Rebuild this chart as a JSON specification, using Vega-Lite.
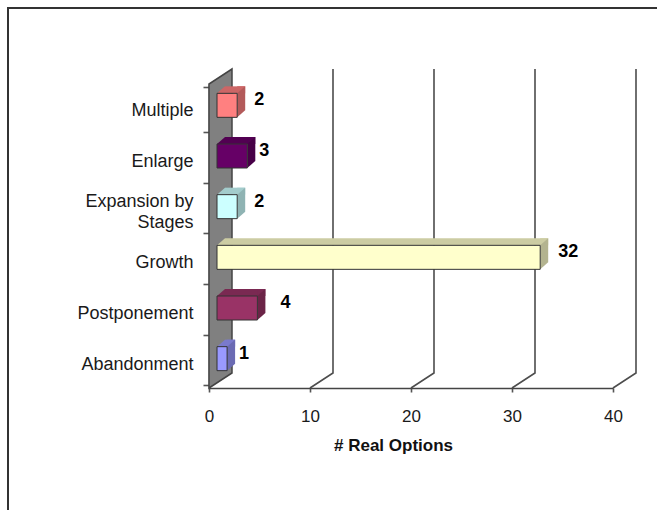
{
"$schema":"https://vega.github.io/schema/vega-lite/v6.json",
"width":404,"height":304,
"autosize":{"type":"none"},
"padding":{"left":209,"top":84,"right":44,"bottom":122},
"background":"white",
"config":{"view":{"stroke":null},"font":"Liberation Sans"},
"datasets":{
"bars":[
{"type":"Multiple","options":2},
{"type":"Enlarge","options":3},
{"type":"Expansion by Stages","options":2},
{"type":"Growth","options":32},
{"type":"Postponement","options":4},
{"type":"Abandonment","options":1}],
"ticks":[{"t":10},{"t":20},{"t":30},{"t":40}],
"origin":[{"t":0}]
},
"data":{"name":"bars"},
"resolve":{"scale":{"color":"independent"}},
"layer":[
{"data":{"name":"origin"},
 "mark":{"type":"point","filled":false,"size":4,"opacity":1,"stroke":"#333333","strokeWidth":2,"shape":"M-201,274 L-201,-228 L448,-228","clip":false},
 "encoding":{"x":{"field":"t","type":"quantitative","scale":{"domain":[0,40],"nice":false}}}},
{"data":{"name":"origin"},
 "mark":{"type":"point","filled":true,"size":4,"opacity":1,"fill":"#808080","stroke":"#444444","strokeWidth":1.5,"shape":"M0,152 L23,137 L23,-167 L0,-152 Z"},
 "encoding":{"x":{"field":"t","type":"quantitative"}}},
{"data":{"name":"ticks"},
 "mark":{"type":"point","filled":false,"size":4,"opacity":1,"stroke":"#4d4d4d","strokeWidth":1.6,"shape":"M0,152 L23,137 L23,-167"},
 "encoding":{"x":{"field":"t","type":"quantitative"}}},
{"mark":{"type":"bar","height":7,"yOffset":-19.5,"xOffset":16,"x2Offset":8},
 "encoding":{
  "y":{"field":"type","type":"nominal","sort":null,"axis":{"title":null,"domainColor":"#444444","domainWidth":1.6,"tickColor":"#555555","tickWidth":1.6,"tickSize":6,"tickBand":"extent","labelPadding":10,"labelFont":"Liberation Sans","labelFontSize":18,"labelColor":"#1a1a1a","labelLineHeight":21,"labelOffset":{"condition":{"test":"datum.value=='Expansion by Stages'","value":-9},"value":1.5},"labelExpr":"datum.label=='Expansion by Stages' ? ['Expansion by','Stages\u00a0\u00a0\u00a0\u00a0\u00a0\u00a0\u00a0'] : datum.label"}},
  "x":{"field":"options","type":"quantitative","scale":{"domain":[0,40],"nice":false},"axis":{"title":"# Real Options","values":[0,10,20,30,40],"grid":false,"domainColor":"#444444","domainWidth":1.6,"tickColor":"#555555","tickWidth":1.6,"tickSize":4,"labelFlush":false,"labelPadding":16,"labelFont":"Liberation Sans","labelFontSize":17,"labelColor":"#1a1a1a","titleFont":"Liberation Sans","titleFontSize":17,"titleFontWeight":"bold","titleColor":"#111111","titleX":184,"titleY":49}},
  "color":{"field":"type","type":"nominal","sort":null,"legend":null,"scale":{"range":["#cc6666","#520052","#a3cccc","#cccca3","#7a2952","#7a7acc"]}}}},
{"mark":{"type":"point","filled":true,"size":4,"opacity":1,"strokeWidth":0,"shape":"M8,-16 L8,-23 L16,-23 Z"},
 "encoding":{"y":{"field":"type","type":"nominal","sort":null},"x":{"field":"options","type":"quantitative"},
  "color":{"field":"type","type":"nominal","sort":null,"legend":null,"scale":{"range":["#cc6666","#520052","#a3cccc","#cccca3","#7a2952","#7a7acc"]}}}},
{"mark":{"type":"point","filled":true,"size":4,"opacity":1,"strokeWidth":0,"shape":"M8,-16 L16,-23 L16,-16 Z"},
 "encoding":{"y":{"field":"type","type":"nominal","sort":null},"x":{"datum":0,"type":"quantitative"},
  "color":{"field":"type","type":"nominal","sort":null,"legend":null,"scale":{"range":["#cc6666","#520052","#a3cccc","#cccca3","#7a2952","#7a7acc"]}}}},
{"mark":{"type":"point","filled":true,"size":4,"opacity":1,"strokeWidth":1,"shape":"M8,-16 L16,-23 L16,1 L8,8 Z"},
 "encoding":{"y":{"field":"type","type":"nominal","sort":null},"x":{"field":"options","type":"quantitative"},
  "color":{"field":"type","type":"nominal","sort":null,"legend":null,"scale":{"range":["#b35a5a","#470047","#8fb3b3","#b3b38f","#6b2447","#6b6bb3"]}}}},
{"mark":{"type":"bar","height":24,"yOffset":-4,"xOffset":8,"x2Offset":8,"stroke":"#333333","strokeWidth":1},
 "encoding":{"y":{"field":"type","type":"nominal","sort":null},"x":{"field":"options","type":"quantitative"},
  "color":{"field":"type","type":"nominal","sort":null,"legend":null,"scale":{"range":["#ff8080","#660066","#ccffff","#ffffcc","#993366","#9999ff"]}}}},
{"transform":[{"filter":"datum.type=='Abandonment'||datum.type=='Enlarge'"}],
 "mark":{"type":"text","font":"Liberation Sans","fontSize":18,"fontWeight":"bold","color":"#000000","dx":25,"dy":-9},
 "encoding":{"y":{"field":"type","type":"nominal","sort":null},"x":{"field":"options","type":"quantitative"},"text":{"field":"options","type":"quantitative"}}},
{"transform":[{"filter":"datum.type=='Multiple'||datum.type=='Expansion by Stages'"}],
 "mark":{"type":"text","font":"Liberation Sans","fontSize":18,"fontWeight":"bold","color":"#000000","dx":30,"dy":-9},
 "encoding":{"y":{"field":"type","type":"nominal","sort":null},"x":{"field":"options","type":"quantitative"},"text":{"field":"options","type":"quantitative"}}},
{"transform":[{"filter":"datum.type=='Growth'||datum.type=='Postponement'"}],
 "mark":{"type":"text","font":"Liberation Sans","fontSize":18,"fontWeight":"bold","color":"#000000","dx":36,"dy":-9},
 "encoding":{"y":{"field":"type","type":"nominal","sort":null},"x":{"field":"options","type":"quantitative"},"text":{"field":"options","type":"quantitative"}}}
]
}
